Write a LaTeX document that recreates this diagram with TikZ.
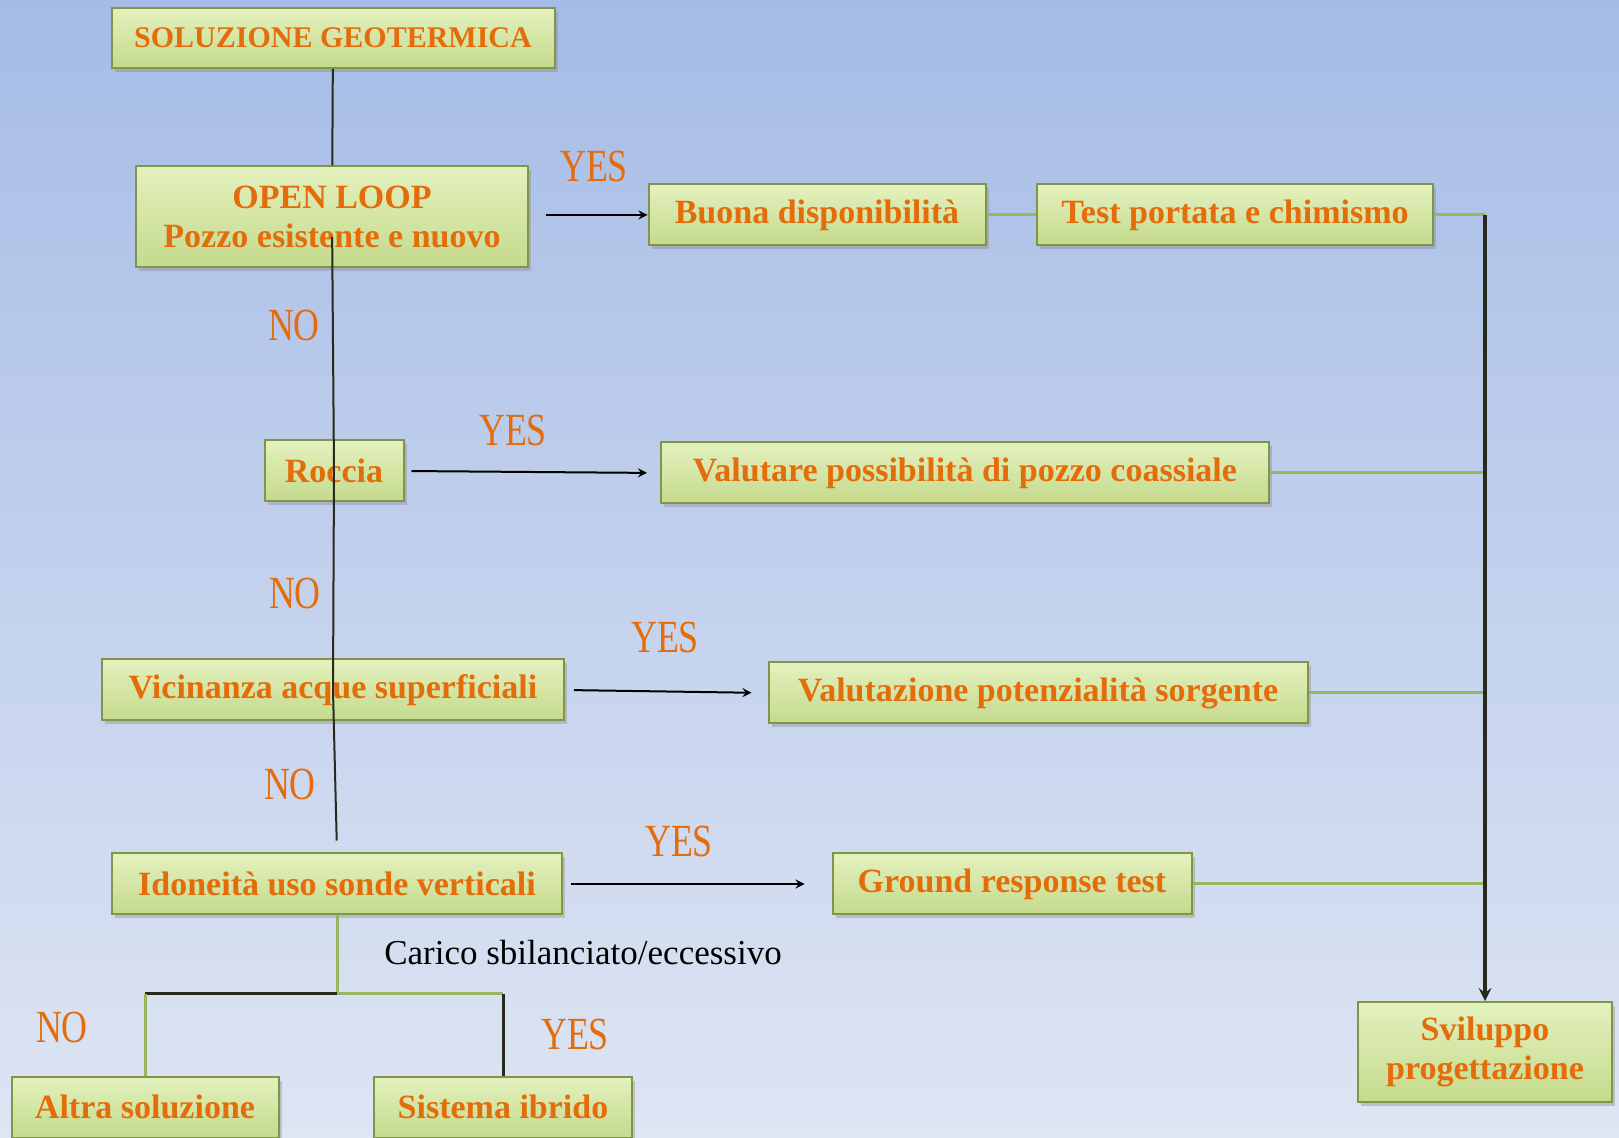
\documentclass[tikz,border=0pt]{standalone}
\usepackage{fontspec}
\setmainfont{Liberation Serif}
\usetikzlibrary{arrows,shadows}

\definecolor{skytop}{RGB}{166,188,230}
\definecolor{skybot}{RGB}{222,229,243}
\definecolor{boxtop}{RGB}{228,241,190}
\definecolor{boxmid}{RGB}{248,252,230}
\definecolor{boxbot}{RGB}{196,218,140}
\definecolor{boxline}{RGB}{128,150,70}
\definecolor{labelorange}{RGB}{228,108,10}
\definecolor{linkgreen}{RGB}{150,182,95}
\definecolor{stemdark}{RGB}{40,42,30}

\tikzset{
	box/.style={rectangle, draw=boxline, line width=1pt, top color=boxtop, middle color=boxmid, bottom color=boxbot,
		drop shadow={shadow xshift=1.5pt, shadow yshift=-2pt, opacity=.35}, inner sep=0pt, minimum height=30.5pt,
		text=labelorange, font=\fontsize{17}{19.5}\selectfont\bfseries, align=center},
	answer/.style={text=labelorange, font=\fontsize{23}{23}\selectfont},
	yesarrow/.style={-stealth, line width=1pt, black},
	link/.style={linkgreen, line width=1.5pt},
	stem/.style={stemdark, line width=1pt}
}

\begin{document}
\begin{tikzpicture}[x=0.5pt,y=0.5pt]
	\useasboundingbox (0,0) rectangle (1619,-1138);
	\shade[top color=skytop, bottom color=skybot] (0,0) rectangle (1619,-1138);

	% left column
	\node[box, minimum width=221.5pt, minimum height=30pt, font=\fontsize{15}{17}\selectfont\bfseries] (sol) at (333,-38) {SOLUZIONE GEOTERMICA};
	\node[box, minimum width=196pt, minimum height=50.5pt] (open) at (332,-217) {OPEN LOOP\\Pozzo esistente e nuovo};
	\node[box, minimum width=69.5pt] (roccia) at (334,-471) {Roccia};
	\node[box, minimum width=231pt] (vic) at (333,-690) {Vicinanza acque superficiali};
	\node[box, minimum width=225pt] (ido) at (337,-884) {Idoneità uso sonde verticali};
	\node[box, minimum width=133.5pt] (altra) at (145,-1107) {Altra soluzione};
	\node[box, minimum width=129pt] (ibrido) at (503,-1107) {Sistema ibrido};

	% right column
	\node[box, minimum width=168.5pt] (buona) at (817,-215) {Buona disponibilità};
	\node[box, minimum width=198pt] (test) at (1235,-215) {Test portata e chimismo};
	\node[box, minimum width=304pt] (valutare) at (965,-473) {Valutare possibilità di pozzo coassiale};
	\node[box, minimum width=269.5pt] (potenz) at (1038,-693) {Valutazione potenzialità sorgente};
	\node[box, minimum width=179.5pt] (grt) at (1012,-884) {Ground response test};
	\node[box, minimum width=127pt, minimum height=50pt] (svil) at (1485,-1052) {Sviluppo\\progettazione};

	% answers
	\node[answer] (yes1) at (594,-167) {\scalebox{.78}[1]{YES}};
	\node[answer] (no1) at (294,-326) {\scalebox{.78}[1]{NO}};
	\node[answer] (yes2) at (513,-430) {\scalebox{.78}[1]{YES}};
	\node[answer] (no2) at (295,-593) {\scalebox{.78}[1]{NO}};
	\node[answer] (yes3) at (665,-637) {\scalebox{.78}[1]{YES}};
	\node[answer] (no3) at (290,-784) {\scalebox{.78}[1]{NO}};
	\node[answer] (yes4) at (679,-841) {\scalebox{.78}[1]{YES}};
	\node[answer] (no4) at (62,-1027) {\scalebox{.78}[1]{NO}};
	\node[answer] (yes5) at (575,-1034) {\scalebox{.78}[1]{YES}};
	\node[font=\fontsize{17.5}{17.5}\selectfont] (carico) at (583,-953) {Carico sbilanciato/eccessivo};

	% main stem
	\draw[stem] (sol) -- (open);
	\draw[stem, shorten <=10pt, shorten >=6pt] (open.center) -- (roccia.center) -- (vic.center) -- (ido.north);

	% yes arrows
	\draw[yesarrow, shorten <=8.5pt] (open.east |- buona) -- (buona.west);
	\draw[yesarrow, shorten <=3.5pt, shorten >=6.5pt] (roccia.east) -- (valutare.west);
	\draw[yesarrow, shorten <=4.5pt, shorten >=8pt] (vic.east) -- (potenz.west);
	\draw[yesarrow, shorten <=4pt, shorten >=13.5pt] (ido.east) -- (grt.west);

	% collector to Sviluppo
	\coordinate (corner) at (test.east -| svil.north);
	\draw[link] (buona) -- (test);
	\draw[link] (test.east) -- (corner);
	\draw[link] (valutare.east) -- (valutare.east -| corner);
	\draw[link] (potenz.east) -- (potenz.east -| corner);
	\draw[link] (grt.east) -- (grt.east -| corner);
	\draw[stem, line width=1.8pt, -stealth] (corner) -- (svil.north);

	% fork under Idoneita
	\coordinate (fork) at (337,-994);
	\draw[link] (ido.south) -- (fork);
	\draw[stem, line width=1.5pt] (fork) -- (fork -| altra.north);
	\draw[link] (fork -| altra.north) -- (altra.north);
	\draw[link] (fork) -- (fork -| ibrido.north);
	\draw[stem, line width=1.5pt] (fork -| ibrido.north) -- (ibrido.north);
\end{tikzpicture}
\end{document}
